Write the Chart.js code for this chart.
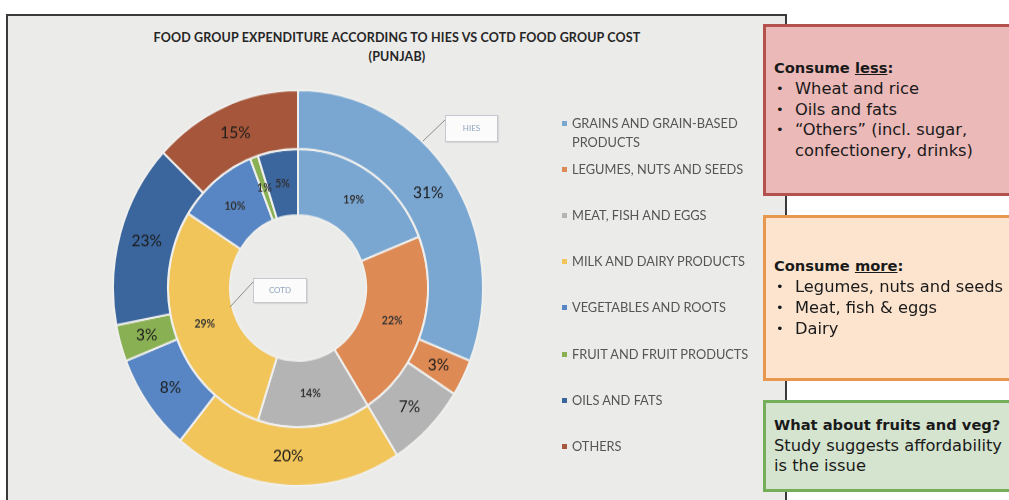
<!DOCTYPE html>
<html>
<head>
<meta charset="utf-8">
<title>Food group expenditure - Punjab</title>
<script src="https://cdn.jsdelivr.net/npm/chart.js@4.4.1/dist/chart.umd.min.js"></script>
<style>
    html, body { margin: 0; padding: 0; }
    body {
        width: 1009px; height: 500px; position: relative; overflow: hidden;
        background: #ffffff; font-family: Lato, 'Open Sans', sans-serif;
    }
    .panel {
        position: absolute; left: 6px; top: 14px; width: 781px; height: 500px;
        box-sizing: border-box; background: #ebebe9; border: 2px solid #3a3a3a;
    }
    .title {
        position: absolute; left: 0; top: 28px; width: 794px; text-align: center;
        font-size: 12.5px; font-weight: 700; line-height: 19px; color: #262626;
        letter-spacing: 0.15px;
    }
    .donut {
        position: absolute; left: 108px; top: 98px; width: 380px; height: 380px;
        transform: scaleY(1.07); transform-origin: 50% 50%;
    }
    .callout {
        position: absolute; box-sizing: border-box; background: #fbfbfb;
        border: 1px solid #c4c9cf; box-shadow: 1px 1px 1px rgba(0,0,0,0.08);
        color: #8fa5be; font-size: 8px; text-align: center;
    }
    .leaders { position: absolute; left: 0; top: 0; }
    .legend-item { position: absolute; left: 562px; width: 210px; }
    .legend-item .sw { position: absolute; left: 0; top: 7px; width: 5px; height: 5px; }
    .legend-item .tx {
        position: absolute; left: 10px; width: 192px;
        font-size: 12.8px; line-height: 19.4px; color: #555555;
    }
    /* note boxes: text block is centred vertically, like a slide shape */
    .note {
        position: absolute; left: 763px; width: 262px; box-sizing: border-box;
        border: 3px solid; color: #1a1a1a; padding-left: 8px;
        display: flex; flex-direction: column; justify-content: center;
        font-family: 'DejaVu Sans', sans-serif; font-size: 16.3px; line-height: 20.8px;
    }
    .note b { font-weight: 700; font-size: 14.7px; }
    .note .bl { position: relative; padding-left: 21px; }
    .note .bl::before { content: '\2022'; position: absolute; left: 2px; font-size: 13px; }
    .less  { top: 24px;  height: 172px; background: #ebb9b8; border-color: #b4504e; }
    .more  { top: 215px; height: 166px; background: #fce4cf; border-color: #e8974f; }
    .fruit { top: 400px; height: 92px;  background: #d5e4cf; border-color: #74ae59; }
</style>
</head>
<body>
<div class="panel"></div>
<div class="title">FOOD GROUP EXPENDITURE ACCORDING TO HIES VS COTD FOOD GROUP COST<br>(PUNJAB)</div>

<div class="donut"><canvas id="donut-chart"></canvas></div>

<svg class="leaders" width="1009" height="500">
    <line x1="445" y1="120" x2="423" y2="141" stroke="#8c8c8c" stroke-width="1"/>
    <line x1="253" y1="282" x2="230" y2="307" stroke="#8c8c8c" stroke-width="1"/>
</svg>
<div class="callout" style="left:445px; top:115px; width:53px; height:27px; line-height:25px;">HIES</div>
<div class="callout" style="left:253px; top:278px; width:54px; height:25px; line-height:23px;">COTD</div>

<div id="legend"></div>

<div class="note less">
    <div><b>Consume <u>less</u>:</b></div>
    <div class="bl">Wheat and rice</div>
    <div class="bl">Oils and fats</div>
    <div class="bl">“Others” (incl. sugar, confectionery, drinks)</div>
</div>
<div class="note more">
    <div><b>Consume <u>more</u>:</b></div>
    <div class="bl">Legumes, nuts and seeds</div>
    <div class="bl">Meat, fish &amp; eggs</div>
    <div class="bl">Dairy</div>
</div>
<div class="note fruit">
    <div><b>What about fruits and veg?</b></div>
    <div>Study suggests affordability</div>
    <div>is the issue</div>
</div>

<script>
// Food groups, in legend / slice order (clockwise from 12 o'clock)
const categories = [
    'GRAINS AND GRAIN-BASED PRODUCTS',
    'LEGUMES, NUTS AND SEEDS',
    'MEAT, FISH AND EGGS',
    'MILK AND DAIRY PRODUCTS',
    'VEGETABLES AND ROOTS',
    'FRUIT AND FRUIT PRODUCTS',
    'OILS AND FATS',
    'OTHERS'
];
const groupColors = ['#7aa7d2', '#de8a54', '#b4b4b4', '#f2c55a', '#5886c4', '#8ab054', '#3b659d', '#a6563a'];

// Outer ring: HIES expenditure shares (slice sizes as drawn) and the printed labels
const hiesShares = [31, 3, 7, 20, 8, 3, 15, 13];
const hiesLabels = ['31%', '3%', '7%', '20%', '8%', '3%', '23%', '15%'];

// Inner ring: COTD food group cost shares
const cotdShares = [19, 22, 14, 29, 10, 1, 5, 0];
const cotdLabels = ['19%', '22%', '14%', '29%', '10%', '1%', '5%', ''];

/**
 * Draws the percentage text in the middle of every slice
 */
const sliceLabels = {
    id: 'sliceLabels',
    afterDatasetsDraw(chart) {
        const ctx = chart.ctx;
        chart.data.datasets.forEach((ds, i) => {
            const meta = chart.getDatasetMeta(i);
            ctx.save();
            ctx.font = ds.pctFont;
            ctx.fillStyle = ds.pctColor;
            ctx.textAlign = 'center';
            ctx.textBaseline = 'middle';
            meta.data.forEach((arc, j) => {
                if (!ds.data[j]) return;
                const p = arc.tooltipPosition();
                ctx.fillText(ds.pctText[j], p.x, p.y);
            });
            ctx.restore();
        });
    }
};

function buildLegend() {
    const box = document.getElementById('legend');
    categories.forEach((name, i) => {
        const item = document.createElement('div');
        item.className = 'legend-item';
        item.style.top = (113.6 + 46.2 * i) + 'px';
        item.innerHTML = '<span class="sw" style="background:' + groupColors[i] + '"></span>' +
            '<span class="tx">' + name + '</span>';
        box.appendChild(item);
    });
}

function initChart() {
    const ctx = document.getElementById('donut-chart');
    new Chart(ctx, {
        type: 'doughnut',
        data: {
            labels: categories,
            datasets: [
                {
                    label: 'HIES',
                    data: hiesShares,
                    pctText: hiesLabels,
                    pctFont: '15.5px Lato',
                    pctColor: '#1c1c1c',
                    backgroundColor: groupColors,
                    borderColor: '#efefed',
                    borderWidth: 2,
                    weight: 55
                },
                {
                    label: 'COTD',
                    data: cotdShares,
                    pctText: cotdLabels,
                    pctFont: 'bold 10.5px Lato',
                    pctColor: '#333333',
                    backgroundColor: groupColors,
                    borderColor: '#efefed',
                    borderWidth: 2,
                    weight: 62
                }
            ]
        },
        options: {
            responsive: true,
            maintainAspectRatio: false,
            animation: false,
            events: [],
            radius: 185,
            cutout: '36.8%',
            plugins: {
                legend: { display: false },
                title: { display: false },
                tooltip: { enabled: false }
            }
        },
        plugins: [sliceLabels]
    });
}

buildLegend();
initChart();
</script>
</body>
</html>
